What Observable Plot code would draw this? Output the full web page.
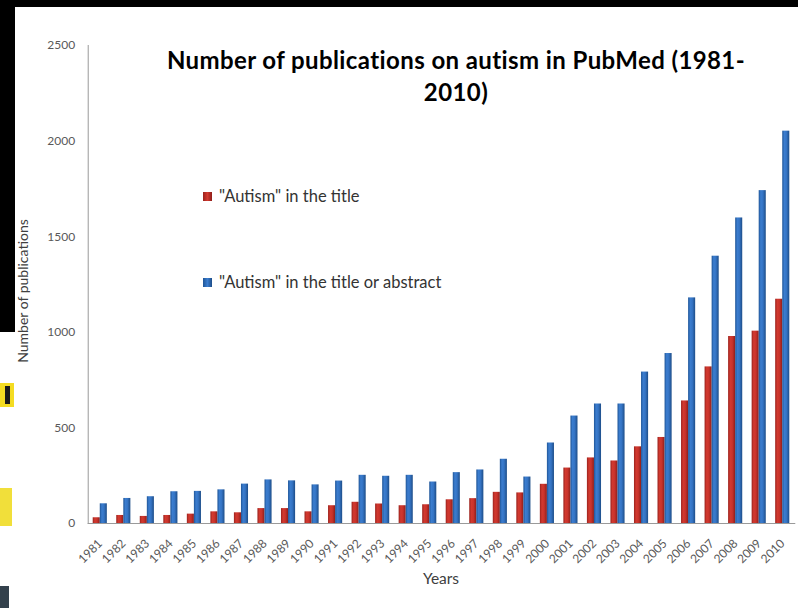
<!DOCTYPE html>
<html>
<head>
<meta charset="utf-8">
<script src="https://cdn.jsdelivr.net/npm/d3@7"></script>
<script src="https://cdn.jsdelivr.net/npm/@observablehq/plot@0.6"></script>
<style>
  html, body { margin: 0; padding: 0; background: #fff; }
  #wrap { position: relative; width: 798px; height: 608px; overflow: hidden; background: #fff; font-family: Lato, "Open Sans", sans-serif; }
  #chart { position: absolute; left: 0; top: 0; }
  .title { position: absolute; left: 106px; width: 700px; top: 44px; text-align: center; font-weight: bold; font-size: 24px; letter-spacing: 0.4px; line-height: 32px; color: #000; white-space: nowrap; }
  .leg { position: absolute; left: 203px; font-size: 16.5px; color: #333; display: flex; align-items: center; white-space: nowrap; height: 18px; }
  .sw { width: 9px; height: 9px; margin-right: 7px; }
  .ylab { position: absolute; left: 22px; top: 291px; transform: translate(-50%, -50%) rotate(-90deg); font-size: 14px; color: #404040; white-space: nowrap; }
  .xlab { position: absolute; left: 441px; top: 578px; transform: translate(-50%, -50%); font-size: 15.5px; color: #404040; white-space: nowrap; }
  .blk { position: absolute; background: #000; }
  .art { position: absolute; }
</style>
</head>
<body>
<div id="wrap">
  <svg width="0" height="0" style="position:absolute">
    <defs>
      <linearGradient id="gradRed" x1="0" x2="1" y1="0" y2="0">
        <stop offset="0%" stop-color="#9a221d"/>
        <stop offset="30%" stop-color="#d2392f"/>
        <stop offset="60%" stop-color="#c9332b"/>
        <stop offset="100%" stop-color="#8e1e1a"/>
      </linearGradient>
      <linearGradient id="gradBlue" x1="0" x2="1" y1="0" y2="0">
        <stop offset="0%" stop-color="#1f5597"/>
        <stop offset="30%" stop-color="#3b7dcf"/>
        <stop offset="60%" stop-color="#3574c4"/>
        <stop offset="100%" stop-color="#1d4d88"/>
      </linearGradient>
    </defs>
  </svg>
  <div id="chart"></div>
  <div class="title">Number of publications on autism in PubMed (1981-<br>2010)</div>
  <div class="leg" style="top:187px"><div class="sw" style="background:linear-gradient(90deg,#9a221d,#d2392f,#8e1e1a)"></div><span>"Autism" in the title</span></div>
  <div class="leg" style="top:273px"><div class="sw" style="background:linear-gradient(90deg,#1f5597,#3b7dcf,#1d4d88)"></div><span>"Autism" in the title or abstract</span></div>
  <div class="ylab">Number of publications</div>
  <div class="xlab">Years</div>
  <div class="blk" style="left:0;top:0;width:798px;height:7px"></div>
  <div class="blk" style="left:0;top:0;width:15px;height:332px"></div>
  <div class="art" style="left:0;top:383px;width:14px;height:24px;background:#f4dc22"></div>
  <div class="art" style="left:5px;top:386px;width:5px;height:18px;background:#1a1a1a"></div>
  <div class="art" style="left:0;top:488px;width:12px;height:38px;background:#f1df3a"></div>
  <div class="art" style="left:0;top:586px;width:9px;height:22px;background:#33414c"></div>
</div>
<script>
const years = ["1981","1982","1983","1984","1985","1986","1987","1988","1989","1990",
               "1991","1992","1993","1994","1995","1996","1997","1998","1999","2000",
               "2001","2002","2003","2004","2005","2006","2007","2008","2009","2010"];
const seriesNames = ["\"Autism\" in the title", "\"Autism\" in the title or abstract"];
const titleCounts = [30, 42, 37, 42, 49, 61, 56, 78, 78, 61,
                     93, 111, 102, 93, 98, 124, 130, 163, 160, 205,
                     290, 343, 327, 401, 450, 641, 819, 978, 1006, 1173];
const titleOrAbstractCounts = [103, 131, 140, 166, 168, 176, 206, 228, 223, 202,
                               222, 252, 247, 252, 217, 266, 280, 336, 243, 421,
                               562, 625, 625, 792, 889, 1180, 1398, 1598, 1741, 2052];
const yTicks = [0, 500, 1000, 1500, 2000, 2500];

const rows = [];
years.forEach((y, i) => {
  rows.push({year: y, series: seriesNames[0], value: titleCounts[i]});
  rows.push({year: y, series: seriesNames[1], value: titleOrAbstractCounts[i]});
});

const chart = Plot.plot({
  width: 798,
  height: 608,
  marginLeft: 88,
  marginRight: 4,
  marginTop: 45,
  marginBottom: 85,
  style: {fontFamily: "Lato, 'Open Sans', sans-serif", fontSize: "12px", color: "#595959", background: "transparent"},
  fx: {domain: years, paddingInner: 0.4, paddingOuter: 0.2, round: false, label: null, axis: "bottom", tickSize: 0, tickPadding: 18, tickRotate: -45},
  x: {domain: seriesNames, axis: null, padding: 0, round: false},
  y: {domain: [0, 2500], ticks: yTicks, tickFormat: d => String(d), label: null, tickSize: 0, tickPadding: 18},
  marks: [
    Plot.frame({anchor: "left", facet: "super", stroke: "#9a9a9a", insetLeft: -5}),
    Plot.barY(rows.filter(d => d.series === seriesNames[0]), {fx: "year", x: "series", y: "value", fill: "url(#gradRed)"}),
    Plot.barY(rows.filter(d => d.series === seriesNames[1]), {fx: "year", x: "series", y: "value", fill: "url(#gradBlue)"}),
    Plot.frame({anchor: "bottom", facet: "super", stroke: "#9a9a9a", insetLeft: -5, insetRight: -5})
  ]
});
document.getElementById("chart").appendChild(chart);
</script>
</body>
</html>
